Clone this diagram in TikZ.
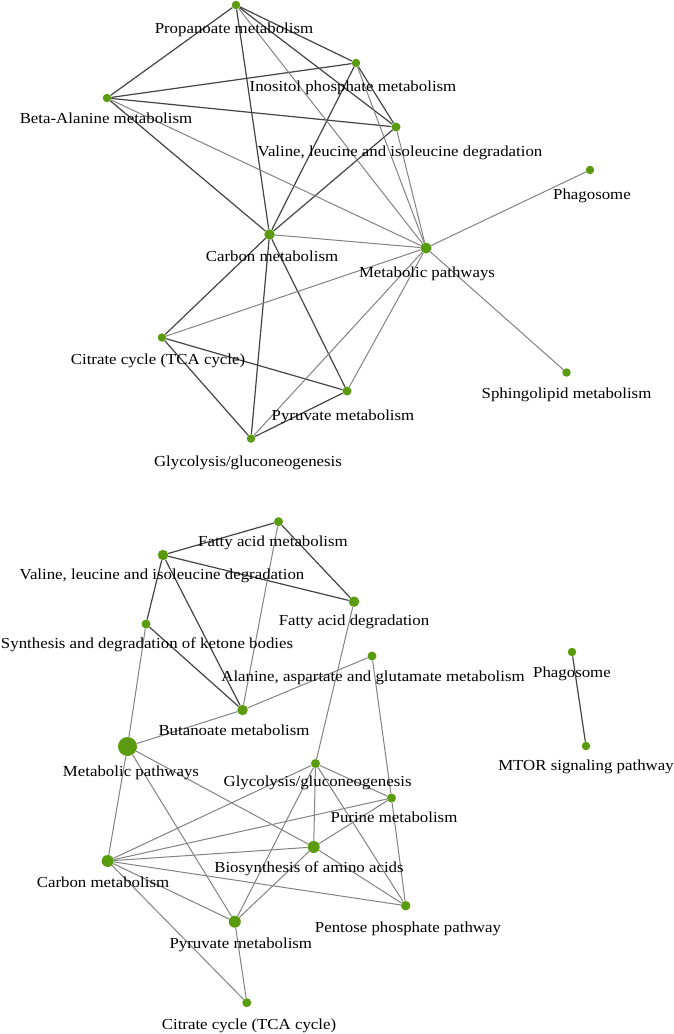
\documentclass[tikz,border=0pt]{standalone}
\usepackage{fontspec}
\setmainfont{Liberation Serif}[FakeStretch=1.1]
\usetikzlibrary{backgrounds}
\definecolor{ngreen}{RGB}{90,155,15}
\definecolor{darkedge}{RGB}{68,68,68}
\definecolor{lightedge}{RGB}{130,130,130}
\tikzset{
  dot/.style={circle, fill=ngreen, draw=none, inner sep=0pt, minimum size=#1},
  lbl/.style={inner sep=0pt, text height=10pt, text depth=3pt, font=\fontsize{15.3}{18}\selectfont, text=black},
  dk/.style={draw=darkedge, line width=1.2pt},
  lt/.style={draw=lightedge, line width=1pt}
}
\begin{document}
\begin{tikzpicture}[x=1pt,y=-1pt]
\useasboundingbox (0,0) rectangle (673,1034);
% ---------- top network ----------
\node[dot=8.5pt] (P)  at (236,5) {};
\node[dot=8.5pt] (I)  at (356,63) {};
\node[dot=8.5pt] (B)  at (107,98) {};
\node[dot=9pt]   (V)  at (396,127) {};
\node[dot=8.5pt] (Ph) at (590,170) {};
\node[dot=10.5pt] (C) at (269.5,234.5) {};
\node[dot=11pt]  (M)  at (426,248) {};
\node[dot=8.5pt] (T)  at (162,337.5) {};
\node[dot=8.5pt] (S)  at (566.5,372.5) {};
\node[dot=9pt]   (Py) at (347,391) {};
\node[dot=8.5pt] (G)  at (251,438.5) {};
\begin{scope}[on background layer]
\draw[dk] (P)--(B); \draw[dk] (P)--(I); \draw[dk] (P)--(V); \draw[dk] (P)--(C);
\draw[dk] (I)--(B); \draw[dk] (I)--(V); \draw[dk] (I)--(C);
\draw[dk] (B)--(V); \draw[dk] (B)--(C); \draw[dk] (V)--(C);
\draw[dk] (C)--(T); \draw[dk] (C)--(G); \draw[dk] (C)--(Py);
\draw[dk] (T)--(Py); \draw[dk] (T)--(G); \draw[dk] (G)--(Py);
\draw[lt] (P)--(M); \draw[lt] (I)--(M); \draw[lt] (B)--(M); \draw[lt] (V)--(M);
\draw[lt] (C)--(M); \draw[lt] (M)--(Ph); \draw[lt] (M)--(S); \draw[lt] (M)--(T);
\draw[lt] (M)--(G); \draw[lt] (M)--(Py);
\end{scope}
\node[lbl] (lP)  at (234,30) {Propanoate metabolism};
\node[lbl] (lI)  at (353,87.5) {Inositol phosphate metabolism};
\node[lbl] (lB)  at (106,119.5) {Beta-Alanine metabolism};
\node[lbl] (lV)  at (400,152.5) {Valine, leucine and isoleucine degradation};
\node[lbl] (lPh) at (592,195.5) {Phagosome};
\node[lbl] (lC)  at (272,258) {Carbon metabolism};
\node[lbl] (lM)  at (427,273.5) {Metabolic pathways};
\node[lbl] (lT)  at (158,360.5) {Citrate cycle (TCA cycle)};
\node[lbl] (lS)  at (566.5,395.2) {Sphingolipid metabolism};
\node[lbl] (lPy) at (343,416.5) {Pyruvate metabolism};
\node[lbl] (lG)  at (248,463) {Glycolysis/gluconeogenesis};
% ---------- bottom network ----------
\node[dot=9pt]    (FAM)  at (278.5,521.7) {};
\node[dot=10.5pt] (VL)   at (163,555) {};
\node[dot=10.5pt] (FAD)  at (354,601.7) {};
\node[dot=9pt]    (SK)   at (146,624) {};
\node[dot=9pt]    (AA)   at (372,656) {};
\node[dot=8.5pt]  (PhB)  at (572,652) {};
\node[dot=10.5pt] (BU)   at (242.5,710) {};
\node[dot=19pt]   (MP)   at (127.5,746.5) {};
\node[dot=8.5pt]  (MT)   at (586,746) {};
\node[dot=9pt]    (GL)   at (315.5,763.5) {};
\node[dot=9pt]    (PU)   at (391.5,798) {};
\node[dot=12pt]   (BA)   at (313.7,847) {};
\node[dot=12pt]   (CM)   at (107.7,861) {};
\node[dot=9.5pt]  (PPP)  at (405.7,905.7) {};
\node[dot=12pt]   (PY)   at (234.8,921.7) {};
\node[dot=9pt]    (TCA)  at (246.8,1002.7) {};
\begin{scope}[on background layer]
\draw[dk] (FAM)--(VL); \draw[dk] (FAM)--(FAD); \draw[dk] (VL)--(FAD);
\draw[dk] (VL)--(SK); \draw[dk] (VL)--(BU); \draw[dk] (SK)--(BU);
\draw[dk] (PhB)--(MT);
\draw[lt] (FAM)--(BU); \draw[lt] (SK)--(MP); \draw[lt] (BU)--(MP); \draw[lt] (BU)--(AA);
\draw[lt] (FAD)--(GL); \draw[lt] (AA)--(PU); \draw[lt] (PU)--(PPP);
\draw[lt] (MP)--(CM); \draw[lt] (MP)--(PY); \draw[lt] (MP)--(BA);
\draw[lt] (GL)--(CM); \draw[lt] (GL)--(PU); \draw[lt] (GL)--(BA); \draw[lt] (GL)--(PY); \draw[lt] (GL)--(PPP);
\draw[lt] (PU)--(CM); \draw[lt] (PU)--(BA);
\draw[lt] (BA)--(CM); \draw[lt] (BA)--(PY); \draw[lt] (BA)--(PPP);
\draw[lt] (CM)--(PPP); \draw[lt] (CM)--(PY); \draw[lt] (CM)--(TCA);
\draw[lt] (PY)--(TCA);
\end{scope}
\node[lbl] (lFAM) at (273,542.5) {Fatty acid metabolism};
\node[lbl] (lVL)  at (162,575.5) {Valine, leucine and isoleucine degradation};
\node[lbl] (lFAD) at (354,621.5) {Fatty acid degradation};
\node[lbl, anchor=west] (lSK) at (0.8,644.5) {Synthesis and degradation of ketone bodies};
\node[lbl] (lAA)  at (373,677.5) {Alanine, aspartate and glutamate metabolism};
\node[lbl] (lPhB) at (572,673.5) {Phagosome};
\node[lbl] (lBU)  at (234,731.5) {Butanoate metabolism};
\node[lbl] (lMP)  at (131,772.5) {Metabolic pathways};
\node[lbl] (lMT)  at (586,766.5) {MTOR signaling pathway};
\node[lbl] (lGL)  at (317.6,782.5) {Glycolysis/gluconeogenesis};
\node[lbl] (lPU)  at (394,818.5) {Purine metabolism};
\node[lbl] (lBA)  at (309,868.5) {Biosynthesis of amino acids};
\node[lbl] (lCM)  at (103,883.5) {Carbon metabolism};
\node[lbl] (lPPP) at (408,928.5) {Pentose phosphate pathway};
\node[lbl] (lPY)  at (240.8,944.5) {Pyruvate metabolism};
\node[lbl] (lTCA) at (249,1025.5) {Citrate cycle (TCA cycle)};
\end{tikzpicture}
\end{document}
